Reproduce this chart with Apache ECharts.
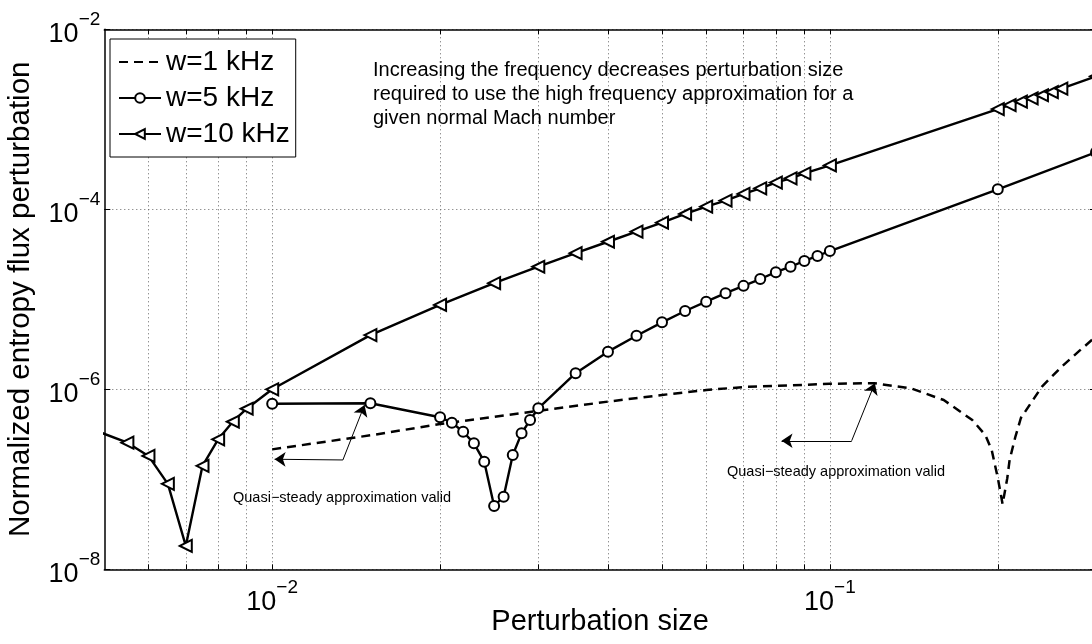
<!DOCTYPE html>
<html>
<head>
<meta charset="utf-8">
<script src="https://cdn.jsdelivr.net/npm/echarts@6/dist/echarts.min.js"></script>
<style>
  html, body { margin: 0; padding: 0; background: #fff; }
  #chart { width: 1092px; height: 644px; }
</style>
</head>
<body>
<div id="chart"></div>
<script>
// Perturbation size (x) and normalized entropy flux perturbation (y) per frequency
const sizes1 = [0.01, 0.015, 0.02, 0.03, 0.04, 0.05, 0.06, 0.07, 0.08, 0.1, 0.12, 0.14, 0.16, 0.18, 0.19, 0.195, 0.2, 0.204, 0.208, 0.21, 0.215, 0.22, 0.24, 0.26, 0.28, 0.3];
const flux1  = [2.15e-7, 3.08e-7, 4.11e-7, 5.75e-7, 7.3e-7, 8.65e-7, 9.8e-7, 1.06e-6, 1.09e-6, 1.15e-6, 1.17e-6, 1.02e-6, 7.6e-7, 4.56e-7, 3.1e-7, 2.12e-7, 1.04e-7, 5.3e-8, 1.03e-7, 1.64e-7, 2.95e-7, 4.8e-7, 1.07e-6, 1.77e-6, 2.67e-6, 3.87e-6];

const sizes5 = [0.01, 0.015, 0.02, 0.021, 0.022, 0.023, 0.024, 0.025, 0.026, 0.027, 0.028, 0.029, 0.03, 0.035, 0.04, 0.045, 0.05, 0.055, 0.06, 0.065, 0.07, 0.075, 0.08, 0.085, 0.09, 0.095, 0.1, 0.2, 0.3];
const flux5  = [6.9e-7, 7.0e-7, 4.89e-7, 4.26e-7, 3.38e-7, 2.51e-7, 1.57e-7, 5.05e-8, 6.41e-8, 1.86e-7, 3.24e-7, 4.56e-7, 6.15e-7, 1.51e-6, 2.62e-6, 3.94e-6, 5.55e-6, 7.41e-6, 9.4e-6, 1.17e-5, 1.41e-5, 1.68e-5, 2.0e-5, 2.3e-5, 2.67e-5, 3.03e-5, 3.44e-5, 1.67e-4, 4.3e-4];

const sizes10 = [0.0045, 0.0055, 0.006, 0.0065, 0.007, 0.0075, 0.008, 0.0085, 0.009, 0.01, 0.015, 0.02, 0.025, 0.03, 0.035, 0.04, 0.045, 0.05, 0.055, 0.06, 0.065, 0.07, 0.075, 0.08, 0.085, 0.09, 0.1, 0.2, 0.21, 0.22, 0.23, 0.24, 0.25, 0.26, 0.3];
const flux10  = [4.1e-7, 2.55e-7, 1.82e-7, 8.9e-8, 1.82e-8, 1.41e-7, 2.78e-7, 4.36e-7, 6.08e-7, 1.0e-6, 4.0e-6, 8.65e-6, 1.51e-5, 2.3e-5, 3.25e-5, 4.36e-5, 5.64e-5, 7.1e-5, 8.87e-5, 1.07e-4, 1.25e-4, 1.48e-4, 1.71e-4, 1.98e-4, 2.21e-4, 2.51e-4, 3.07e-4, 1.30e-3, 1.44e-3, 1.57e-3, 1.71e-3, 1.85e-3, 2.0e-3, 2.19e-3, 3.0e-3];

const seriesNames = ['w=1 kHz', 'w=5 kHz', 'w=10 kHz'];

// Axis ranges, log-spaced grid lines and decade labels
const xRange = [0.005, 0.3];
const yRange = [1e-8, 1e-2];
const xGridValues = [0.006, 0.007, 0.008, 0.009, 0.01, 0.02, 0.03, 0.04, 0.05, 0.06, 0.07, 0.08, 0.09, 0.1, 0.2, 0.3];
const xLabelValues = [0.01, 0.1];
const yDecadeStep = 2;

const FONT = "'Liberation Sans', Helvetica, Arial, sans-serif";
const L = Math.log10;
const toPairs = (xs, ys) => xs.map((x, i) => [L(x), L(ys[i])]);

// Decade label "10^n" drawn with a raised exponent
const powerLabel = v => {
  const e = Math.round(v);
  return '{b|10}{s|' + (e < 0 ? '\u2212' : '') + Math.abs(e) + '}';
};
const powerRich = {
  b: { fontSize: 27, fontFamily: FONT, color: '#000', lineHeight: 38, verticalAlign: 'bottom' },
  s: { fontSize: 19, fontFamily: FONT, color: '#000', lineHeight: 19, verticalAlign: 'top' }
};

const gridDots = { show: true, lineStyle: { color: '#666', width: 1, type: [1, 3] } };
const frame = { show: true, onZero: false, lineStyle: { color: '#000', width: 1.5 } };
const tickStyle = { color: '#000', width: 1 };

// Annotation arrows, given in data coordinates
const arrowLine = (from, to) => [
  { coord: [L(from[0]), L(from[1])], symbol: 'none' },
  { coord: [L(to[0]), L(to[1])], symbol: 'arrow', symbolSize: 11 }
];
const leftCorner = [0.01339, 1.64e-7];
const rightCorner = [0.1094, 2.68e-7];

const chart = echarts.init(document.getElementById('chart'));
chart.setOption({
  animation: false,
  backgroundColor: '#fff',
  grid: { left: 104.3, top: 29.3, width: 991.7, height: 540, containLabel: false, outerBoundsMode: 'none' },
  xAxis: [
    {
      type: 'value', position: 'bottom', min: L(xRange[0]), max: L(xRange[1]),
      name: 'Perturbation size', nameLocation: 'middle', nameGap: 38, nameMoveOverlap: false,
      nameTextStyle: { fontSize: 29, fontFamily: FONT, color: '#000' },
      axisLine: frame,
      axisTick: { show: true, inside: true, length: 5, lineStyle: tickStyle, customValues: xGridValues.map(L) },
      axisLabel: { show: true, margin: 9, formatter: powerLabel, rich: powerRich, customValues: xLabelValues.map(L) },
      splitLine: gridDots
    },
    {
      type: 'value', position: 'top', min: L(xRange[0]), max: L(xRange[1]),
      axisLine: frame,
      axisTick: { show: true, inside: true, length: 5, lineStyle: tickStyle, customValues: xGridValues.map(L) },
      axisLabel: { show: false },
      splitLine: { show: false }
    }
  ],
  yAxis: [
    {
      type: 'value', position: 'left', min: L(yRange[0]), max: L(yRange[1]), interval: yDecadeStep,
      name: 'Normalized entropy flux perturbation', nameLocation: 'middle', nameGap: 68, nameMoveOverlap: false,
      nameTextStyle: { fontSize: 29.5, fontFamily: FONT, color: '#000' },
      axisLine: frame,
      axisTick: { show: true, inside: true, length: 6, lineStyle: tickStyle },
      axisLabel: { show: true, margin: 4, formatter: powerLabel, rich: powerRich },
      splitLine: gridDots
    },
    {
      type: 'value', position: 'right', min: L(yRange[0]), max: L(yRange[1]), interval: yDecadeStep,
      axisLine: frame,
      axisTick: { show: true, inside: true, length: 6, lineStyle: tickStyle },
      axisLabel: { show: false },
      splitLine: { show: false }
    }
  ],
  legend: {
    orient: 'vertical', left: 110, top: 39,
    data: [
      { name: seriesNames[0], itemStyle: { opacity: 0 } },
      { name: seriesNames[1] },
      { name: seriesNames[2] }
    ],
    itemWidth: 42, itemHeight: 12, itemGap: 8,
    padding: [9, 6, 9, 8],
    backgroundColor: '#fff', borderColor: '#000', borderWidth: 1, borderRadius: 0,
    textStyle: { fontSize: 28, fontFamily: FONT, color: '#000' }
  },
  graphic: [
    {
      type: 'text', x: 373, y: 58, silent: true,
      style: {
        text: 'Increasing the frequency decreases perturbation size\nrequired to use the high frequency approximation for a\ngiven normal Mach number',
        font: '20px ' + FONT, fill: '#000', lineHeight: 24
      }
    },
    {
      type: 'text', x: 233, y: 498, silent: true,
      style: { text: 'Quasi\u2212steady approximation valid', font: '14.5px ' + FONT, fill: '#000', verticalAlign: 'middle' }
    },
    {
      type: 'text', x: 727, y: 472, silent: true,
      style: { text: 'Quasi\u2212steady approximation valid', font: '14.5px ' + FONT, fill: '#000', verticalAlign: 'middle' }
    }
  ],
  series: [
    {
      name: seriesNames[0], type: 'line', data: toPairs(sizes1, flux1),
      symbol: 'none', color: '#000',
      lineStyle: { color: '#000', width: 2.5, type: [9, 6] },
      z: 3,
      markLine: {
        silent: true, animation: false,
        label: { show: false },
        lineStyle: { color: '#000', width: 1, type: 'solid' },
        data: [
          arrowLine(leftCorner, [0.0101, 1.67e-7]),
          arrowLine(leftCorner, [0.01464, 6.7e-7]),
          arrowLine(rightCorner, [0.0819, 2.68e-7]),
          arrowLine(rightCorner, [0.1204, 1.17e-6])
        ]
      }
    },
    {
      name: seriesNames[1], type: 'line', data: toPairs(sizes5, flux5),
      symbol: 'emptyCircle', symbolSize: 10, color: '#000',
      itemStyle: { color: '#000', borderColor: '#000', borderWidth: 2.2 },
      lineStyle: { color: '#000', width: 2.4 },
      z: 4
    },
    {
      name: seriesNames[2], type: 'line', data: toPairs(sizes10, flux10),
      symbol: 'emptyTriangle', symbolSize: 12, symbolRotate: 90, color: '#000',
      itemStyle: { color: '#000', borderColor: '#000', borderWidth: 2.2 },
      lineStyle: { color: '#000', width: 2.4 },
      z: 4
    }
  ]
});
</script>
</body>
</html>
